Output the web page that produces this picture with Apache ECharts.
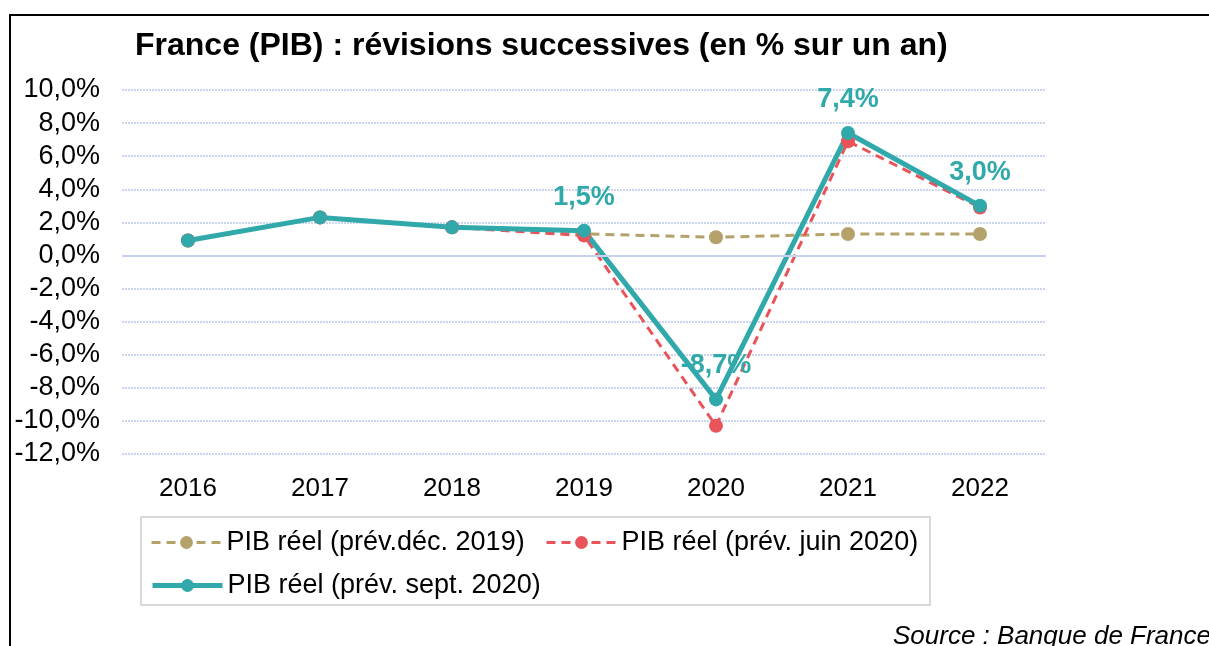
<!DOCTYPE html>
<html>
<head>
    <meta charset='utf-8'>
    <script src="https://cdn.jsdelivr.net/npm/echarts@6/dist/echarts.min.js"></script>
</head>
<body>
<style>
    html, body, #main {
        width: 100%;
        height: 100%;
        margin: 0;
        padding: 0;
        background: #fff;
    }
</style>
<div id="main"></div>
<script>
    var years = ['2016', '2017', '2018', '2019', '2020', '2021', '2022'];
    var prevDec2019 = [0.9, 2.3, 1.7, 1.3, 1.1, 1.3, 1.3];
    var prevJuin2020 = [0.9, 2.3, 1.7, 1.2, -10.3, 6.9, 2.9];
    var prevSept2020 = [0.9, 2.3, 1.7, 1.5, -8.7, 7.4, 3.0];
    var labelledYears = ['2019', '2020', '2021', '2022'];

    var FONT = "'Liberation Sans', Arial, sans-serif";
    var TEAL = '#31A9AB', RED = '#E9545A', TAN = '#B5A26A';

    function pct(v) {
        return v.toFixed(1).replace('.', ',') + '%';
    }

    var chart = echarts.init(document.getElementById('main'));

    // only the last four points of the sept. 2020 forecast carry a label
    var tealData = prevSept2020.map(function (v, i) {
        return {
            value: v,
            label: {show: labelledYears.indexOf(years[i]) >= 0}
        };
    });

    function legend(name, left, top) {
        return {
            data: [name],
            left: left,
            top: top,
            itemWidth: 70,
            itemHeight: 16,
            itemGap: 8,
            padding: 0,
            lineStyle: {width: 'inherit'},
            textStyle: {fontFamily: FONT, fontSize: 27, color: '#000'}
        };
    }

    chart.setOption({
        animation: false,
        title: {
            text: 'France (PIB) : révisions successives (en % sur un an)',
            left: 130,
            top: 25,
            textStyle: {fontFamily: FONT, fontSize: 32, fontWeight: 'bold', color: '#000'}
        },
        legend: [
            legend('PIB réel (prév.déc. 2019)', 150, 529),
            legend('PIB réel (prév. juin 2020)', 545, 529),
            legend('PIB réel (prév. sept. 2020)', 150, 572)
        ],
        graphic: [
            {
                type: 'polyline',
                shape: {points: [[10, 646], [10, 15], [1209, 15]]},
                style: {stroke: '#000', lineWidth: 2, fill: null}
            },
            {
                type: 'rect',
                shape: {x: 141, y: 517, width: 789, height: 88},
                style: {stroke: '#D9D9D9', lineWidth: 2, fill: null}
            },
            {
                type: 'text',
                left: 893,
                top: 624,
                style: {text: 'Source : Banque de France', fontFamily: FONT, fontSize: 26, fontStyle: 'italic', fill: '#000'}
            }
        ],
        grid: {left: 122, right: 163, top: 90, bottom: 192},
        xAxis: {
            type: 'category',
            data: years,
            axisLine: {show: false},
            axisTick: {show: false},
            axisLabel: {fontFamily: FONT, fontSize: 26, color: '#000', margin: 22}
        },
        yAxis: {
            type: 'value',
            min: -12,
            max: 10,
            interval: 2,
            axisLabel: {fontFamily: FONT, fontSize: 27, color: '#000', margin: 22, formatter: pct},
            splitLine: {lineStyle: {color: '#CAD6F0', width: 2, type: [2, 1]}}
        },
        series: [
            {
                name: 'PIB réel (prév.déc. 2019)',
                type: 'line',
                data: prevDec2019,
                symbol: 'circle',
                symbolSize: 14,
                itemStyle: {color: TAN},
                lineStyle: {color: TAN, width: 3, type: [9, 6]},
                markLine: {
                    silent: true,
                    symbol: 'none',
                    label: {show: false},
                    lineStyle: {color: '#C5D3EE', width: 2, type: 'solid'},
                    data: [{yAxis: 0}]
                }
            },
            {
                name: 'PIB réel (prév. juin 2020)',
                type: 'line',
                data: prevJuin2020,
                symbol: 'circle',
                symbolSize: 14,
                itemStyle: {color: RED},
                lineStyle: {color: RED, width: 3, type: [9, 6]}
            },
            {
                name: 'PIB réel (prév. sept. 2020)',
                type: 'line',
                data: tealData,
                symbol: 'circle',
                symbolSize: 14,
                itemStyle: {color: TEAL},
                lineStyle: {color: TEAL, width: 5},
                label: {
                    position: 'top',
                    distance: 13,
                    fontFamily: FONT,
                    fontSize: 27,
                    fontWeight: 'bold',
                    color: TEAL,
                    formatter: function (p) { return pct(p.value); }
                }
            }
        ]
    });
</script>
</body>
</html>
